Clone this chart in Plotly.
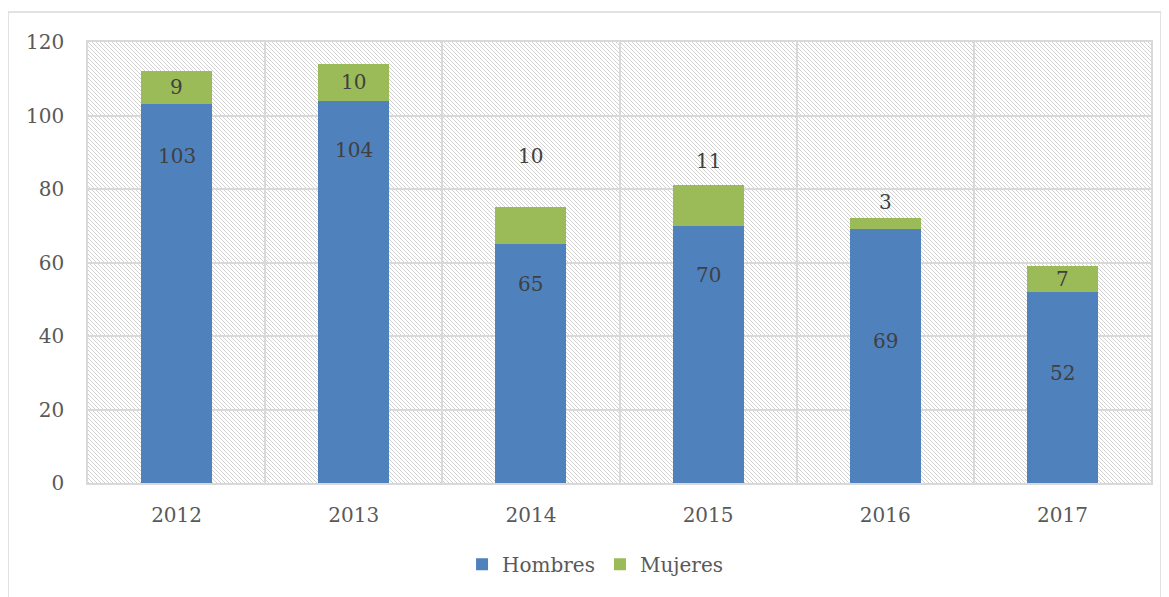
import base64
import plotly.graph_objects as go

years = ["2012", "2013", "2014", "2015", "2016", "2017"]
hombres = [103, 104, 65, 70, 69, 52]
mujeres = [9, 10, 10, 11, 3, 7]
y_ticks = [0, 20, 40, 60, 80, 100, 120]

# label offsets (px) picked to match where the original labels sit
hombres_shift = [-52, -49, -40, -49, -112, -81]
mujeres_shift = [-16, -18, 51, 24, 16, -13]

FONT = "DejaVu Serif"
TXT = "#404040"
GRID = "#d9d9d9"

totals = [h + m for h, m in zip(hombres, mujeres)]

# the page body has an 8px margin, so offset everything by that
PW, PH = 1063, 441

# light downward diagonal hatch for the plot area, as an svg image
hatch = (
    '<svg xmlns="http://www.w3.org/2000/svg" width="%d" height="%d" shape-rendering="crispEdges">'
    '<defs><pattern id="h" width="4" height="4" patternUnits="userSpaceOnUse">'
    '<rect x="0" y="0" width="1" height="1" fill="#d2d2d2"/>'
    '<rect x="1" y="1" width="1" height="1" fill="#d2d2d2"/>'
    '<rect x="2" y="2" width="1" height="1" fill="#d2d2d2"/>'
    '<rect x="3" y="3" width="1" height="1" fill="#d2d2d2"/>'
    '</pattern></defs><rect width="100%%" height="100%%" fill="url(#h)"/></svg>' % (PW, PH)
)
hatch_src = "data:image/svg+xml;base64," + base64.b64encode(hatch.encode()).decode()

fig = go.Figure()

fig.add_trace(go.Bar(
    x=years, y=hombres, name="Hombres", width=0.4,
    marker=dict(color="#4f81bd", line_width=0)))
fig.add_trace(go.Bar(
    x=years, y=mujeres, name="Mujeres", width=0.4,
    marker=dict(color="#9bbb59", line_width=0)))

for i in range(len(years)):
    fig.add_annotation(x=i, y=hombres[i], text=str(hombres[i]), showarrow=False,
                       yshift=hombres_shift[i], font=dict(family=FONT, size=20, color=TXT))
    fig.add_annotation(x=i, y=totals[i], text=str(mujeres[i]), showarrow=False,
                       yshift=mujeres_shift[i], font=dict(family=FONT, size=20, color=TXT))

fig.add_layout_image(source=hatch_src, xref="paper", yref="paper", x=0, y=1,
                     sizex=1, sizey=1, xanchor="left", yanchor="top",
                     sizing="stretch", layer="below")

# outer chart border (paper coords past the plot area)
fig.add_shape(type="rect", xref="paper", yref="paper",
              x0=(8 - 88) / PW, x1=(1161 - 88) / PW, y0=-0.4, y1=(483 - 12) / PH,
              line=dict(color=GRID, width=1.5), fillcolor="rgba(0,0,0,0)", layer="below")

fig.update_layout(
    width=1169, height=597,
    margin=dict(l=80, r=26, t=34, b=122),
    barmode="stack",
    plot_bgcolor="white", paper_bgcolor="white",
    font=dict(family=FONT, size=20, color="#595959"),
    legend=dict(orientation="h", x=0.477, xanchor="center", y=-0.14, yanchor="top",
                font=dict(family=FONT, size=20, color="#595959"),
                traceorder="normal"),
    xaxis=dict(type="category", tickson="boundaries", showgrid=True, gridcolor=GRID,
               gridwidth=1.5, showline=True, linecolor=GRID, linewidth=1.5, mirror=True,
               ticks="", ticklabelstandoff=13, range=[-0.5, 5.5]),
    yaxis=dict(range=[0, 120], tickvals=y_ticks, showgrid=True, gridcolor=GRID,
               gridwidth=1.5, showline=True, linecolor=GRID, linewidth=1.5, mirror=True,
               ticks="", ticklabelstandoff=18, zeroline=False),
)

fig.write_html("out.html")
